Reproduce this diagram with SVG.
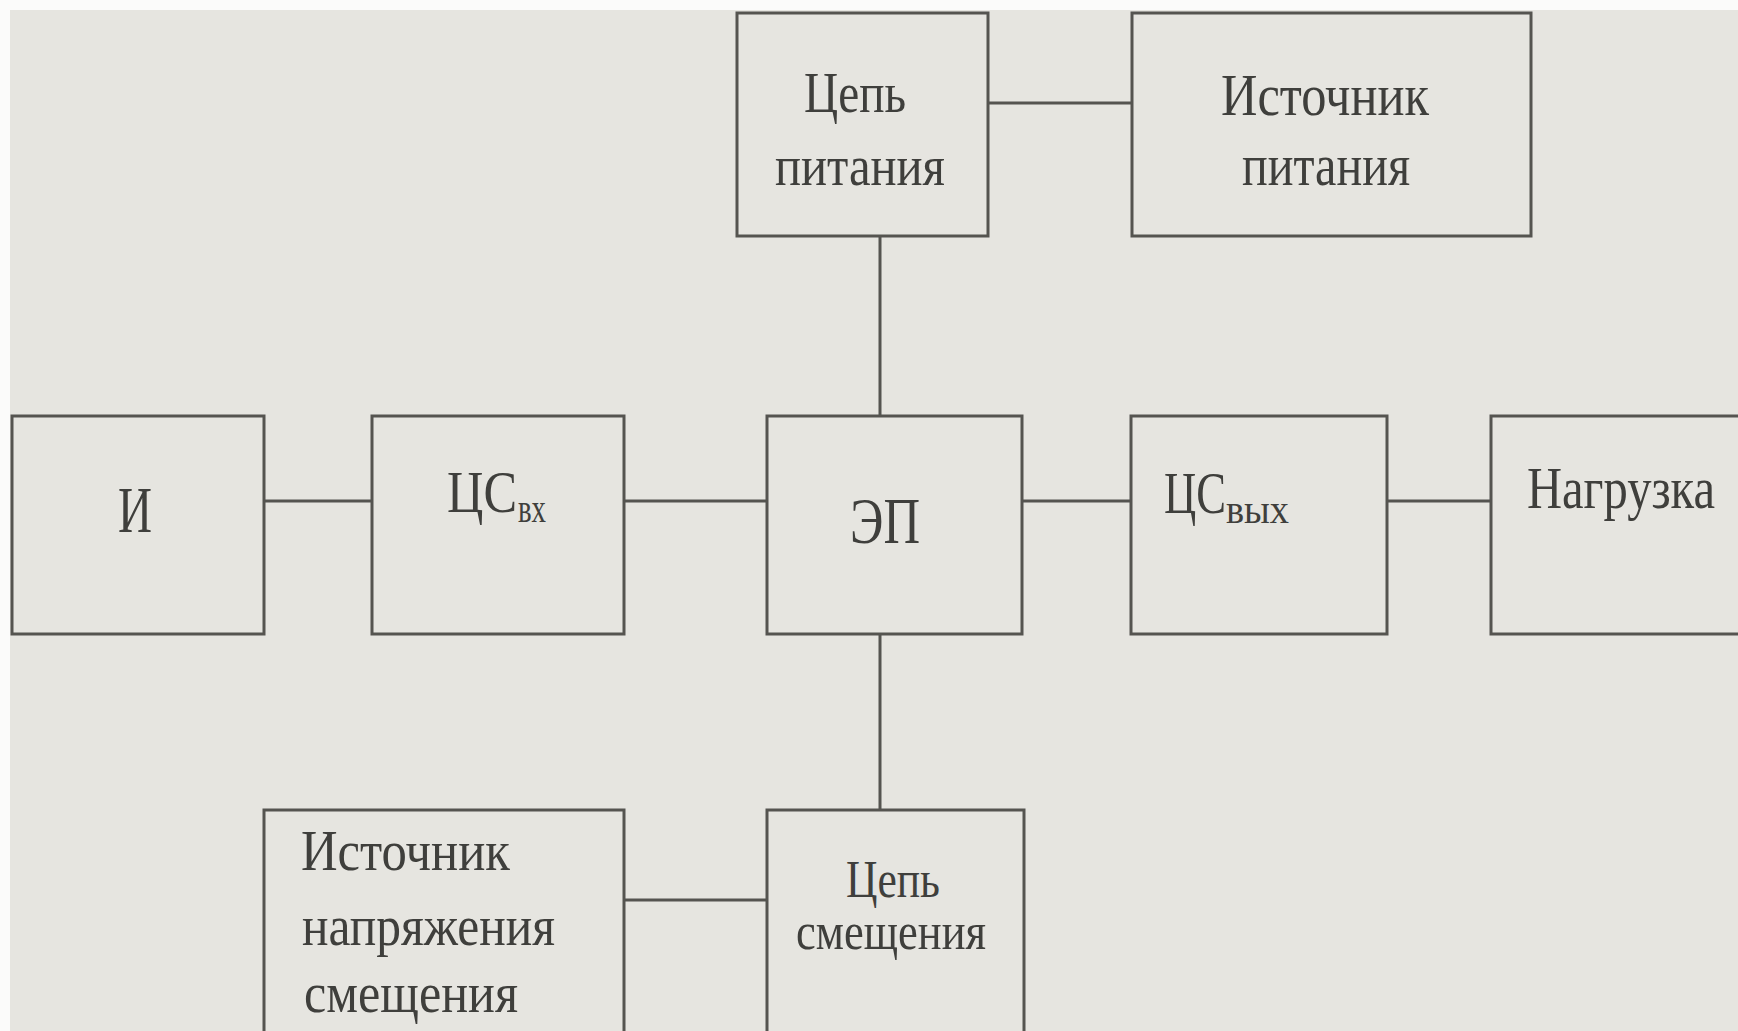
<svg xmlns="http://www.w3.org/2000/svg" width="1738" height="1031" viewBox="0 0 1738 1031">
<style>
.bg{fill:#e6e5e0}
.box{fill:#e6e5e0;stroke:#555450;stroke-width:3}
.wire{stroke:#555450;stroke-width:3;fill:none}
text{font-family:"Liberation Serif","Times New Roman",serif;fill:#3f3f3c}
</style>
<rect x="0" y="0" width="1738" height="1031" fill="#fbfbfa"/>
<rect class="bg" x="10" y="10" width="1740" height="1030"/>
<g id="connectors">
<line class="wire" x1="988" y1="103" x2="1132" y2="103"/>
<line class="wire" x1="880" y1="236" x2="880" y2="416"/>
<line class="wire" x1="264" y1="501" x2="372" y2="501"/>
<line class="wire" x1="624" y1="501" x2="767" y2="501"/>
<line class="wire" x1="1022" y1="501" x2="1131" y2="501"/>
<line class="wire" x1="1387" y1="501" x2="1491" y2="501"/>
<line class="wire" x1="880" y1="634" x2="880" y2="810"/>
<line class="wire" x1="624" y1="900" x2="767" y2="900"/>
</g>
<g id="tsep-pitaniya">
<rect class="box" x="737" y="13" width="251" height="223"/>
<text font-size="58"><tspan x="804" y="112" textLength="102" lengthAdjust="spacingAndGlyphs">Цепь</tspan><tspan x="775" y="185" textLength="170" lengthAdjust="spacingAndGlyphs">питания</tspan></text>
</g>
<g id="istochnik-pitaniya">
<rect class="box" x="1132" y="13" width="399" height="223"/>
<text font-size="60"><tspan x="1221" y="115" textLength="208" lengthAdjust="spacingAndGlyphs">Источник</tspan><tspan x="1242" y="185" textLength="168" lengthAdjust="spacingAndGlyphs">питания</tspan></text>
</g>
<g id="I">
<rect class="box" x="12" y="416" width="252" height="218"/>
<text x="118" y="532" font-size="65" textLength="34" lengthAdjust="spacingAndGlyphs">И</text>
</g>
<g id="tsvh">
<rect class="box" x="372" y="416" width="252" height="218"/>
<text font-size="60"><tspan x="447" y="512" textLength="70" lengthAdjust="spacingAndGlyphs">ЦС</tspan><tspan x="518" y="522" font-size="40" textLength="28" lengthAdjust="spacingAndGlyphs">вх</tspan></text>
</g>
<g id="EP">
<rect class="box" x="767" y="416" width="255" height="218"/>
<text x="850" y="543" font-size="66" textLength="70" lengthAdjust="spacingAndGlyphs">ЭП</text>
</g>
<g id="tsvyh">
<rect class="box" x="1131" y="416" width="256" height="218"/>
<text font-size="60"><tspan x="1164" y="513" textLength="62" lengthAdjust="spacingAndGlyphs">ЦС</tspan><tspan x="1226" y="523" font-size="40" textLength="63" lengthAdjust="spacingAndGlyphs">вых</tspan></text>
</g>
<g id="nagruzka">
<rect class="box" x="1491" y="416" width="300" height="218"/>
<text x="1527" y="508" font-size="60" textLength="188" lengthAdjust="spacingAndGlyphs">Нагрузка</text>
</g>
<g id="istochnik-smescheniya">
<rect class="box" x="264" y="810" width="360" height="260"/>
<text font-size="58"><tspan x="301" y="870" textLength="209" lengthAdjust="spacingAndGlyphs">Источник</tspan><tspan x="302" y="945" textLength="253" lengthAdjust="spacingAndGlyphs">напряжения</tspan><tspan x="304" y="1012" textLength="214" lengthAdjust="spacingAndGlyphs">смещения</tspan></text>
</g>
<g id="tsep-smescheniya">
<rect class="box" x="767" y="810" width="257" height="260"/>
<text font-size="52"><tspan x="846" y="897" textLength="94" lengthAdjust="spacingAndGlyphs">Цепь</tspan><tspan x="796" y="949" textLength="190" lengthAdjust="spacingAndGlyphs">смещения</tspan></text>
</g>
</svg>
